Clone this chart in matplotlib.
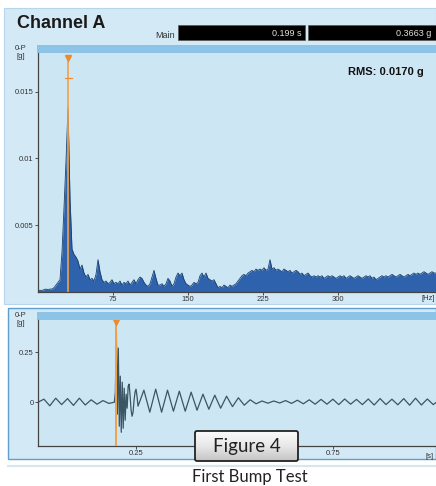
import numpy as np
import matplotlib.pyplot as plt
from matplotlib.patches import Rectangle, FancyBboxPatch
from matplotlib.colors import LinearSegmentedColormap

plt.rcParams['font.family'] = ['Liberation Sans', 'DejaVu Sans']

# ---- data ----
# FFT spectrum, 0-P amplitude [g], every 2 Hz from 0 to 398 Hz
freqs = np.arange(0, 400, 2)
spectrum = [
    .0001, .0001, .0001, .00015, .0002, .00015, .0002, .0002, .0003, .0005,
    .0007, .0009, .0030, .0063, .0098, .0138, .0070, .0032, .0028, .0026,
    .0023, .0017, .0020, .0014, .0011, .0013, .0009, .0010, .0008, .0013,
    .0024, .0015, .0009, .0007, .0008, .0006, .0007, .0009, .0006, .0007,
    .0006, .0008, .0005, .0007, .0006, .0008, .0005, .0007, .0009, .0006,
    .0009, .0011, .0010, .0007, .0005, .0004, .0006, .0011, .0016, .0010,
    .0005, .0005, .0006, .0004, .0006, .0010, .0008, .0004, .0006, .0011,
    .0014, .0012, .0014, .0009, .0006, .0005, .0004, .0005, .0007, .0006,
    .0007, .0012, .0014, .0011, .0014, .0010, .0009, .0008, .0009, .0006,
    .0003, .0004, .0003, .0005, .0004, .0003, .0005, .0004, .0005, .0006,
    .0008, .0010, .0012, .0013, .0012, .0014, .0015, .0016, .0015, .0017,
    .0016, .0017, .0016, .0018, .0016, .0017, .0024, .0017, .0018, .0016,
    .0017, .0016, .0015, .0017, .0016, .0015, .0016, .0014, .0015, .0016,
    .0015, .0013, .0014, .0012, .0013, .0014, .0012, .0011, .0012, .0011,
    .0012, .0011, .0012, .0010, .0011, .0012, .0011, .0012, .0011, .0010,
    .0011, .0012, .0011, .0012, .0010, .0011, .0012, .0011, .0010, .0011,
    .0012, .0011, .0010, .0011, .0012, .0011, .0012, .0010, .0011, .0009,
    .0010, .0011, .0012, .0011, .0012, .0011, .0012, .0013, .0012, .0011,
    .0012, .0013, .0012, .0011, .0012, .0013, .0012, .0013, .0014, .0013,
    .0014, .0013, .0014, .0015, .0014, .0013, .0014, .0015, .0014, .0014,
]

# time waveform [g]: before the bump, the bump itself, the ring-down after
pre_t = np.arange(0, 0.19, 0.015)
pre_g = [0.0, .015, -.018, .02, -.012, .018, -.016, .02, -.014, .012, -.01, .008, -.006]

bump_t = 0.194 + 0.0025 * np.arange(25)
bump_g = [0.0, .05, .3663, -.06, .27, -.12, .13, -.15, .10, -.13,
          .07, -.09, .04, -.03, .08, .09, .03, -.04, -.07, -.05,
          .01, .05, .065, .03, -.02]

post_t = 0.254 + 0.015 * np.arange(52)
post_g = [-.02, .06, -.05, .065, -.05, .06, -.045, .055, -.045, .05,
          -.04, .04, -.035, .035, -.03, .03, -.022, .022, -.015, .012,
          -.008, .006, -.005, .006, -.004, .008, -.006, .01, -.008, .012,
          -.01, .014, -.01, .015, -.012, .016, -.01, .014, -.012, .016,
          -.014, .018, -.012, .015, -.013, .018, -.015, .02, -.014, .016,
          -.012, .01]

wave_t = np.concatenate([pre_t, bump_t, post_t])
wave_g = np.concatenate([pre_g, bump_g, post_g])

freq_ticks = [75, 150, 225, 300]
spec_yticks = [0.005, 0.01, 0.015]
spec_ylabels = ['0.005', '0.01', '0.015']
time_ticks = [0.25, 0.5, 0.75]
time_labels = ['0.25', '', '0.75']   # 0.5 sits under the caption box

# ---- layout in pixels ----
W, H = 436, 486
fig = plt.figure(figsize=(W / 100, H / 100), dpi=100, facecolor='white')


def rect(x0, y0, x1, y1):
    return [x0 / W, 1 - y1 / H, (x1 - x0) / W, (y1 - y0) / H]


bg = fig.add_axes([0, 0, 1, 1], zorder=0)
bg.set_xlim(0, W)
bg.set_ylim(H, 0)
bg.axis('off')

panel = '#d4e9f6'
strip = '#8cc3e6'
bg.add_patch(Rectangle((4, 8), W - 4, 296, fc=panel, ec='#b5d6ec', lw=0.8))
bg.add_patch(Rectangle((8, 308), W - 8, 151, fc=panel, ec='#5e9fd0', lw=1))
bg.add_patch(Rectangle((37, 45), W - 37, 8, fc=strip, ec='none'))
bg.add_patch(Rectangle((37, 312), W - 37, 8, fc=strip, ec='none'))
bg.plot([8, W], [466, 466], color='#d8e6ef', lw=1.5)

bg.text(17, 24, 'Channel A', fontsize=13, fontweight='bold', color='#1a1a1a', va='center')
bg.text(175, 35, 'Main', fontsize=6.5, color='#333333', ha='right', va='center')
bg.add_patch(Rectangle((178, 25), 127, 15, fc='black', ec='#555555', lw=0.5))
bg.add_patch(Rectangle((308, 25), W - 308, 15, fc='black', ec='#555555', lw=0.5))
bg.text(301, 33, '0.199 s', fontsize=6.5, color='#e0e0e0', ha='right', va='center')
bg.text(431, 33, '0.3663 g', fontsize=6.5, color='#e0e0e0', ha='right', va='center')

for y0 in (47, 314):
    bg.text(21, y0 + 1, '0-P', fontsize=5.5, color='#333333', ha='center', va='center')
    bg.text(21, y0 + 9, '[g]', fontsize=5.5, color='#333333', ha='center', va='center')
bg.text(428, 298, '[Hz]', fontsize=5.5, color='#333333', ha='center', va='center')
bg.text(430, 456, '[s]', fontsize=5.5, color='#333333', ha='center', va='center')


def style(ax):
    ax.set_facecolor('#cde6f4')
    for s in ('top', 'right'):
        ax.spines[s].set_visible(False)
    for s in ('left', 'bottom'):
        ax.spines[s].set_color('#444444')
        ax.spines[s].set_linewidth(0.9)
    ax.tick_params(direction='out', length=2, width=0.6, labelsize=5.5,
                   colors='#333333', pad=1)


# spectrum
ax1 = fig.add_axes(rect(38, 53, W, 291.7), zorder=1)
style(ax1)
ax1.fill_between(freqs, spectrum, color='#2e62ad', lw=0)
ax1.plot(freqs, spectrum, color='#1c3f6b', lw=0.6)
pk = freqs[int(np.argmax(spectrum))]
ax1.plot([pk, pk], [0, 0.0175], color='#f2a24a', lw=1.2)
ax1.plot([pk], [0.0175], marker='v', color='#ee8a2a', ms=4)
ax1.plot([pk - 3.5, pk + 3.5], [0.016, 0.016], color='#ee8a2a', lw=0.8)
ax1.set_xlim(0, 398)
ax1.set_ylim(0, 0.0179)
ax1.set_xticks(freq_ticks)
ax1.set_yticks(spec_yticks)
ax1.set_yticklabels(spec_ylabels)
ax1.text(0.97, 0.92, 'RMS: 0.0170 g', transform=ax1.transAxes, ha='right',
         va='center', fontsize=8, fontweight='bold', color='#111111')

# time waveform
ax2 = fig.add_axes(rect(38, 320, W, 445.7), zorder=1)
style(ax2)
tk = bump_t[int(np.argmax(bump_g))]
ax2.plot([tk, tk], [-0.217, 0.40], color='#f2a24a', lw=1.4, zorder=3)
ax2.plot([tk], [0.40], marker='v', color='#ee8a2a', ms=4, zorder=4)
ax2.plot(wave_t, wave_g, color='#3b5663', lw=0.9, zorder=2)
ax2.set_xlim(0, 1.011)
ax2.set_ylim(-0.217, 0.41)
ax2.set_xticks(time_ticks)
ax2.set_xticklabels(time_labels)
ax2.set_yticks([0, 0.25])
ax2.set_yticklabels(['0', '0.25'])

# caption box on top
fg = fig.add_axes([0, 0, 1, 1], zorder=5)
fg.set_xlim(0, W)
fg.set_ylim(H, 0)
fg.axis('off')
fg.patch.set_alpha(0)
box = FancyBboxPatch((195, 431), 103, 30, boxstyle='round,pad=0,rounding_size=2',
                     fc='none', ec='#222222', lw=1.3, zorder=6)
grey = LinearSegmentedColormap.from_list('cap', ['#fbfbfb', '#e8e8e8', '#c4c4c4'])
grad = np.linspace(0, 1, 50).reshape(-1, 1)
im = fg.imshow(grad, extent=(195, 298, 461, 431), cmap=grey, aspect='auto', zorder=5)
fg.add_patch(box)
im.set_clip_path(box)
fg.set_xlim(0, W)
fg.set_ylim(H, 0)
fg.text(246.5, 446, 'Figure 4', fontsize=13.5, family=['Lato', 'DejaVu Sans'],
        color='#222222', ha='center', va='center', zorder=7)
fg.text(250, 477, 'First Bump Test', fontsize=12, family=['Lato', 'DejaVu Sans'],
        color='#222222', ha='center', va='center')

fig.savefig('out.png', dpi=100, facecolor='white')
